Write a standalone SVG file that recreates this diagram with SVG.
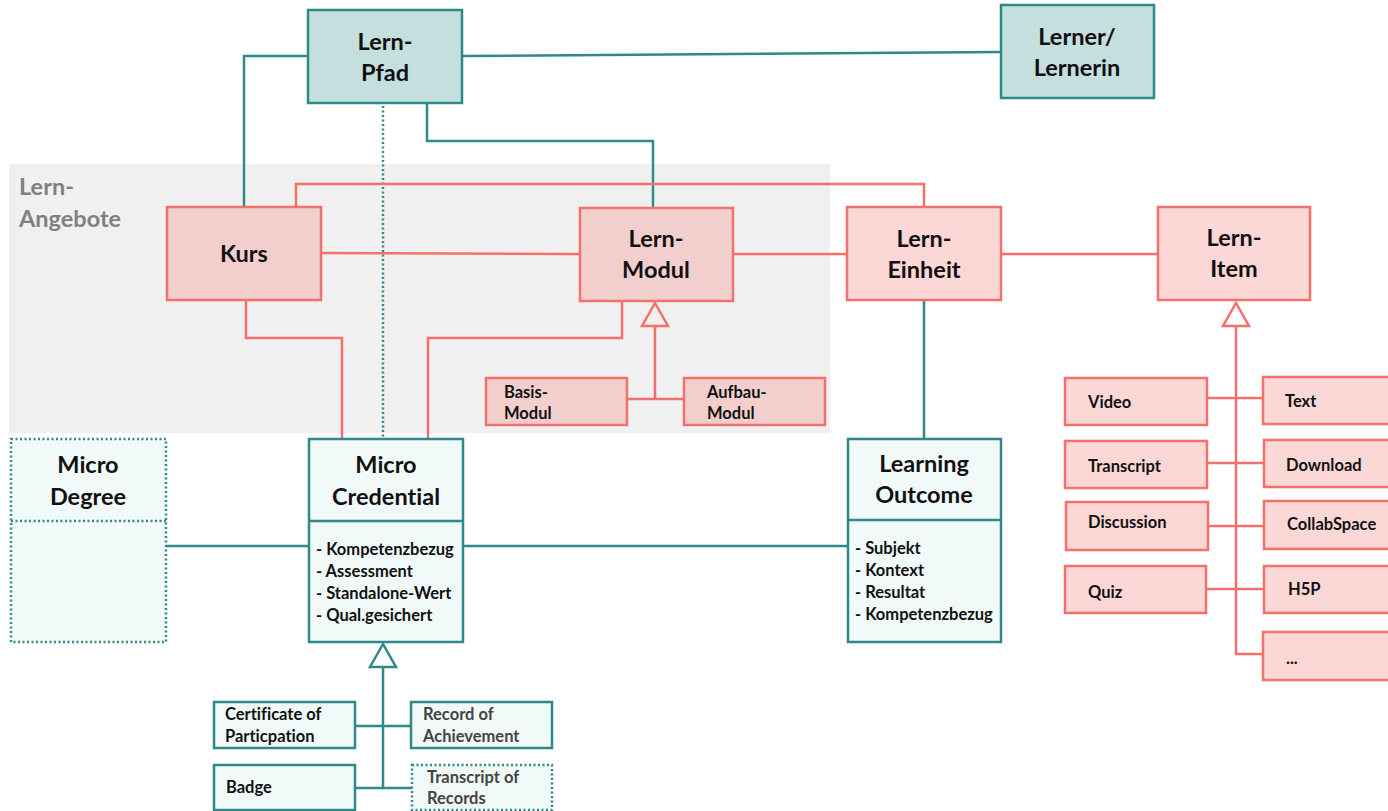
<svg xmlns="http://www.w3.org/2000/svg" width="1388" height="811" viewBox="0 0 1388 811">
<style>
text{font-family:Lato,"Open Sans","Liberation Sans",sans-serif;font-weight:bold;fill:#111;font-variant-ligatures:none}
.big{font-size:23.5px;text-anchor:middle}
.sm{font-size:16.5px}
.attr{font-size:16.5px}
.gray{fill:#444}
.teal{stroke:#2e8a88;stroke-width:2.5;fill:none}
.red{stroke:#f4716b;stroke-width:2.5;fill:none}
.tbox{fill:#c5dfde;stroke:#2e8a88;stroke-width:2.5}
.lbox{fill:#f2f9f9;stroke:#2e8a88;stroke-width:2.5}
.dbox{fill:#f2f9f9;stroke:#2e8a88;stroke-width:2.5;stroke-dasharray:2 2.5}
.rbox{fill:#f2cfcd;stroke:#f4716b;stroke-width:2.5}
.pbox{fill:#fbd7d6;stroke:#f4716b;stroke-width:2.5}
</style>
<rect x="9" y="164" width="821" height="269" fill="#f0f0f0"/>
<text x="19" y="195" style="font-size:23.5px;fill:#808080">Lern-</text>
<text x="19" y="227" style="font-size:23.5px;fill:#808080">Angebote</text>

<g id="connectors">
<polyline class="teal" points="308,56 244,56 244,207"/>
<line class="teal" x1="462" y1="56" x2="1001" y2="52"/>
<polyline class="teal" points="427,103 427,141 653,141 653,208"/>
<line class="teal" x1="383" y1="106" x2="383" y2="439" stroke-dasharray="2 2.5"/>
<polyline class="red" points="296,207 296,184 924,184 924,207"/>
<line class="red" x1="321" y1="253" x2="580" y2="254"/>
<line class="red" x1="733" y1="254" x2="847" y2="254"/>
<line class="red" x1="1001" y1="254" x2="1158" y2="254"/>
<polyline class="red" points="246,300 246,338 342,338 342,439"/>
<polyline class="red" points="622,301 622,338 428,338 428,439"/>
<line class="teal" x1="924" y1="300" x2="924" y2="439"/>
<line class="teal" x1="166" y1="546" x2="309" y2="546"/>
<line class="teal" x1="463" y1="546" x2="848" y2="546"/>
<polygon class="red" points="655,303 642,326 668,326"/>
<polyline class="red" points="655,326 655,399"/>
<line class="red" x1="627" y1="399" x2="684" y2="399"/>
<polygon class="red" points="1236,303 1223,326 1249,326"/>
<polyline class="red" points="1236,326 1236,654 1263,654"/>
<line class="red" x1="1207" y1="398" x2="1263" y2="398"/>
<line class="red" x1="1207" y1="463" x2="1264" y2="463"/>
<line class="red" x1="1208" y1="526" x2="1264" y2="526"/>
<line class="red" x1="1206" y1="589" x2="1264" y2="589"/>
<polygon class="teal" points="383,644 370,667 396,667"/>
<line class="teal" x1="383" y1="667" x2="383" y2="788"/>
<line class="teal" x1="355" y1="726" x2="411" y2="726"/>
<line class="teal" x1="355" y1="788" x2="412" y2="788"/>
</g>

<g id="lernpfad"><rect class="tbox" x="308" y="10" width="154" height="93"/><text class="big" x="385" y="50">Lern-</text><text class="big" x="385" y="81">Pfad</text></g>
<g id="lerner"><rect class="tbox" x="1001" y="5" width="153" height="93"/><text class="big" x="1077" y="45">Lerner/</text><text class="big" x="1077" y="76">Lernerin</text></g>

<g id="kurs"><rect class="rbox" x="167" y="207" width="154" height="93"/><text class="big" x="244" y="262">Kurs</text></g>
<g id="lernmodul"><rect class="rbox" x="580" y="208" width="153" height="93"/><text class="big" x="656" y="247">Lern-</text><text class="big" x="656" y="278">Modul</text></g>
<g id="lerneinheit"><rect class="pbox" x="847" y="207" width="154" height="93"/><text class="big" x="924" y="247">Lern-</text><text class="big" x="924" y="278">Einheit</text></g>
<g id="lernitem"><rect class="pbox" x="1158" y="207" width="152" height="93"/><text class="big" x="1234" y="246">Lern-</text><text class="big" x="1234" y="277">Item</text></g>

<g id="basismodul"><rect class="rbox" x="486" y="378" width="141" height="47"/><text class="sm" x="504" y="398">Basis-</text><text class="sm" x="504" y="419">Modul</text></g>
<g id="aufbaumodul"><rect class="rbox" x="684" y="378" width="141" height="47"/><text class="sm" x="707" y="398">Aufbau-</text><text class="sm" x="707" y="419">Modul</text></g>

<g id="microdegree"><rect class="dbox" x="11" y="439" width="155" height="203"/><line x1="11" y1="521" x2="166" y2="521" stroke="#2e8a88" stroke-width="2.5" stroke-dasharray="2 2.5"/><text class="big" x="88" y="473">Micro</text><text class="big" x="88" y="505">Degree</text></g>

<g id="microcredential"><rect class="lbox" x="309" y="439" width="154" height="203"/><line x1="309" y1="521" x2="463" y2="521" stroke="#2e8a88" stroke-width="2.5"/><text class="big" x="386" y="473">Micro</text><text class="big" x="386" y="505">Credential</text>
<text class="attr" x="316" y="555">- Kompetenzbezug</text><text class="attr" x="316" y="577">- Assessment</text><text class="attr" x="316" y="599">- Standalone-Wert</text><text class="attr" x="316" y="621">- Qual.gesichert</text></g>

<g id="learningoutcome"><rect class="lbox" x="848" y="439" width="153" height="203"/><line x1="848" y1="520" x2="1001" y2="520" stroke="#2e8a88" stroke-width="2.5"/><text class="big" x="924" y="472">Learning</text><text class="big" x="924" y="503">Outcome</text>
<text class="attr" x="855" y="554">- Subjekt</text><text class="attr" x="855" y="576">- Kontext</text><text class="attr" x="855" y="598">- Resultat</text><text class="attr" x="855" y="620">- Kompetenzbezug</text></g>

<g id="certificate"><rect class="lbox" x="214" y="702" width="141" height="46"/><text class="sm" x="225" y="720">Certificate of</text><text class="sm" x="225" y="742">Particpation</text></g>
<g id="record"><rect class="lbox" x="411" y="702" width="141" height="46"/><text class="sm gray" x="423" y="720">Record of</text><text class="sm gray" x="423" y="742">Achievement</text></g>
<g id="badge"><rect class="lbox" x="214" y="765" width="141" height="45"/><text class="sm" x="226" y="793">Badge</text></g>
<g id="transcriptrecords"><rect class="dbox" x="412" y="765" width="140" height="45"/><text class="sm gray" x="427" y="783">Transcript of</text><text class="sm gray" x="427" y="804">Records</text></g>

<g id="video"><rect class="pbox" x="1065" y="378" width="142" height="47"/><text class="sm" x="1088" y="408">Video</text></g>
<g id="text"><rect class="pbox" x="1263" y="377" width="135" height="47"/><text class="sm" x="1285" y="407">Text</text></g>
<g id="transcript"><rect class="pbox" x="1065" y="441" width="142" height="47"/><text class="sm" x="1088" y="472">Transcript</text></g>
<g id="download"><rect class="pbox" x="1264" y="440" width="134" height="47"/><text class="sm" x="1286" y="471">Download</text></g>
<g id="discussion"><rect class="pbox" x="1066" y="502" width="142" height="48"/><text class="sm" x="1088" y="528">Discussion</text></g>
<g id="collabspace"><rect class="pbox" x="1264" y="501" width="134" height="48"/><text class="sm" x="1287" y="530">CollabSpace</text></g>
<g id="quiz"><rect class="pbox" x="1065" y="566" width="141" height="47"/><text class="sm" x="1088" y="598">Quiz</text></g>
<g id="h5p"><rect class="pbox" x="1264" y="566" width="134" height="47"/><text class="sm" x="1288" y="595">H5P</text></g>
<g id="more"><rect class="pbox" x="1263" y="632" width="135" height="48"/><text class="sm" x="1286" y="664">...</text></g>
</svg>
